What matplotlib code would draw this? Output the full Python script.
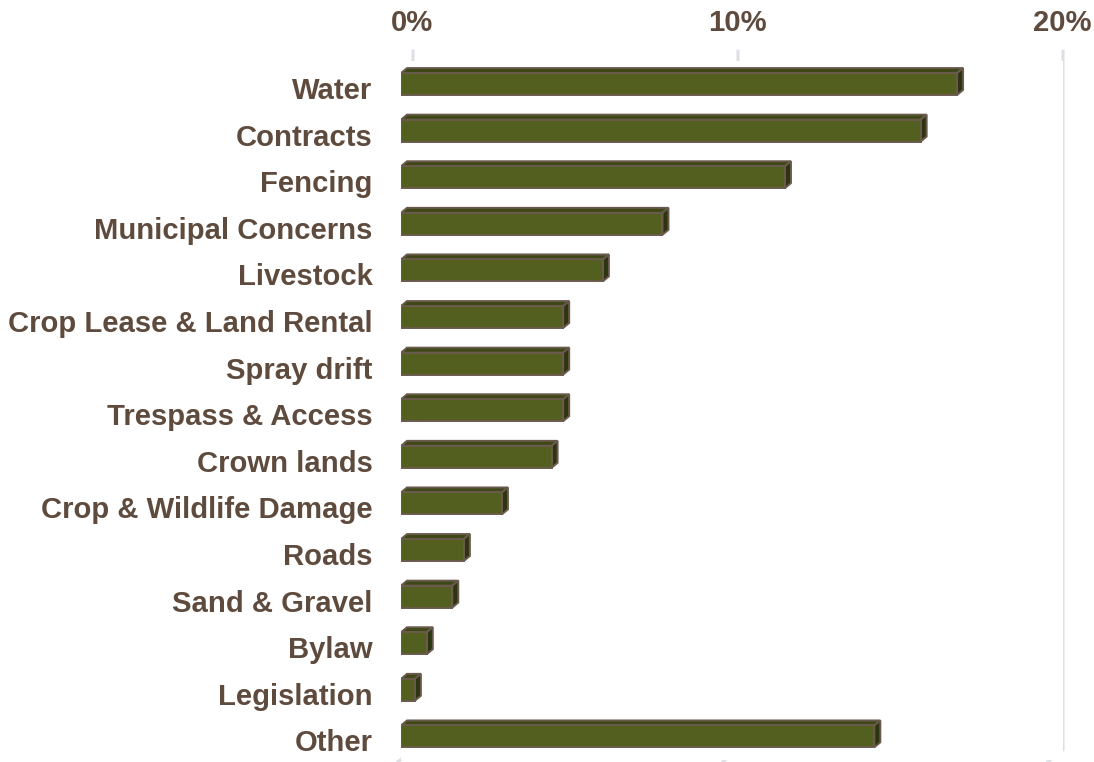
import numpy as np
import matplotlib
matplotlib.use("Agg")
import matplotlib.pyplot as plt
from matplotlib.patches import Polygon
from matplotlib.lines import Line2D
from matplotlib.transforms import ScaledTranslation

categories = ["Water", "Contracts", "Fencing", "Municipal Concerns", "Livestock",
              "Crop Lease & Land Rental", "Spray drift", "Trespass & Access",
              "Crown lands", "Crop & Wildlife Damage", "Roads", "Sand & Gravel",
              "Bylaw", "Legislation", "Other"]
values = [16.8, 15.7, 11.6, 7.9, 6.1, 4.9, 4.9, 4.9, 4.55, 3.05, 1.9, 1.55, 0.78, 0.42, 14.3]
xticks = [0, 10, 20]
xticklabels = ["0%", "10%", "20%"]

TEXT = "#5E4B3D"
FRONT = "#535F1F"
TOP = "#3E4816"
SIDE = "#2C3410"
EDGE = "#6A5A4E"
GRID = "#DCE0E5"

W, H, DPI = 1094, 762, 100
fig = plt.figure(figsize=(W / DPI, H / DPI), dpi=DPI)
plt.rcParams['font.family'] = ['Liberation Sans', 'DejaVu Sans']

n = len(categories)
row_px = 46.6
left_px = 401
xscale_px = 33.1  # px per % on the front plane
ax_w_px = 20 * xscale_px
top_px = 84 - 0.5 * row_px
ax_h_px = n * row_px
ax = fig.add_axes([left_px / W, 1 - (top_px + ax_h_px) / H, ax_w_px / W, ax_h_px / H])
ax.set_xlim(0, 20)
ax.set_ylim(n - 0.5, -0.5)
for s in ax.spines.values():
    s.set_visible(False)

# depth offsets
bar_dx_px, bar_dy_px = 6, 5
wall_dx_px, wall_dy_px = 12, 10
back_scale = 32.5 / xscale_px  # back wall is slightly compressed (perspective)
ddx = bar_dx_px / xscale_px
ddy = bar_dy_px / row_px

# gridlines on back wall + floor slant
fig.canvas.draw()
x0_front = ax.transData.transform((0, 0))[0]
y_top = ax.transAxes.transform((0, 1))[1]
y_bot = ax.transAxes.transform((0, 0))[1]
for v in xticks:
    xf = ax.transData.transform((v, 0))[0]
    xb = x0_front + wall_dx_px + (xf - x0_front) * back_scale
    ln = Line2D([xb, xb, xb - 15],
                [y_top + wall_dy_px - 0.5, y_bot + wall_dy_px, y_bot - 2],
                transform=None, color=GRID, lw=2.2, zorder=0, clip_on=False)
    fig.add_artist(ln)

h = 0.47
y = np.arange(n)
ax.barh(y, values, height=h, color=FRONT, edgecolor=EDGE, linewidth=1.4, zorder=3)
for yi, v in zip(y, values):
    t = yi - h / 2
    b = yi + h / 2
    top_face = Polygon([(0, t), (v, t), (v + ddx, t - ddy), (ddx, t - ddy)],
                       closed=True, facecolor=TOP, edgecolor=EDGE, linewidth=1.4, zorder=2)
    side_face = Polygon([(v, t), (v + ddx, t - ddy), (v + ddx, b - ddy), (v, b)],
                        closed=True, facecolor=SIDE, edgecolor=EDGE, linewidth=1.4, zorder=2)
    ax.add_patch(top_face)
    ax.add_patch(side_face)

ax.set_yticks(y)
ax.set_yticklabels(categories, fontsize=21.1, fontweight='bold', color=TEXT)
ax.tick_params(axis='y', length=0, pad=20.5)
for lab in ax.get_yticklabels():
    lab.set_transform(lab.get_transform() + ScaledTranslation(0, -4 / DPI, fig.dpi_scale_trans))

ax.xaxis.tick_top()
ax.set_xticks(xticks)
ax.set_xticklabels(xticklabels, fontsize=21.1, fontweight='bold', color=TEXT)
ax.tick_params(axis='x', length=0, pad=17)
for lab, v in zip(ax.get_xticklabels(), xticks):
    xf = v * xscale_px
    shift = wall_dx_px + xf * (back_scale - 1) - 1
    lab.set_transform(lab.get_transform() + ScaledTranslation(shift / DPI, 0, fig.dpi_scale_trans))

fig.savefig("out.png", dpi=DPI, facecolor="white")
